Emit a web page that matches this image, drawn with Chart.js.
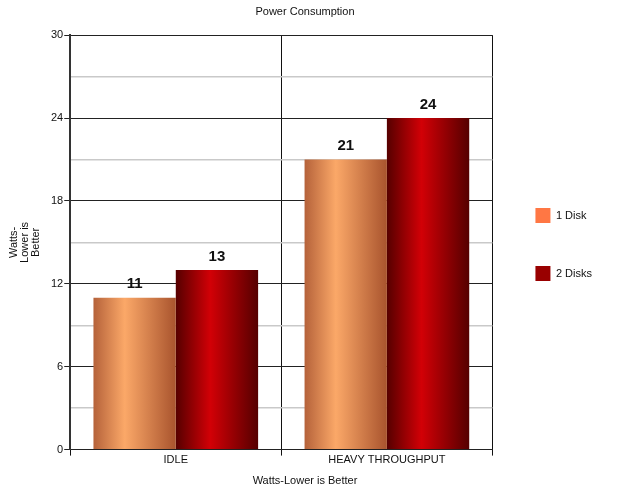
<!DOCTYPE html>
<html lang="en">
<head>
<meta charset="UTF-8">
<title>Power Consumption</title>
<script src="https://cdn.jsdelivr.net/npm/chart.js@4/dist/chart.umd.min.js"></script>
<style>
  html, body { margin: 0; padding: 0; background: #fff; }
  #wrap { width: 640px; height: 489px; }
</style>
</head>
<body>
<div id="wrap"><canvas id="myChart" width="640" height="489"></canvas></div>
<script>
  // values
  const categories = ['IDLE', 'HEAVY THROUGHPUT'];
  const oneDisk = [11, 21];
  const twoDisks = [13, 24];
  const yTicks = [0, 6, 12, 18, 24, 30];

  const FONT = 'Liberation Sans, Arial, sans-serif';

  // gradient stops for the shaded bars (left -> right)
  const oneDiskStops = [[0, '#b5623a'], [0.38, '#fba868'], [1, '#a9542e']];
  const twoDiskStops = [[0, '#560000'], [0.42, '#d20006'], [1, '#550000']];

  const barShading = {
    id: 'barShading',
    beforeDatasetsDraw(chart) {
      const ctx = chart.ctx;
      chart.data.datasets.forEach((ds, i) => {
        const stops = ds.stops;
        chart.getDatasetMeta(i).data.forEach(el => {
          const g = ctx.createLinearGradient(el.x - el.width / 2, 0, el.x + el.width / 2, 0);
          stops.forEach(s => g.addColorStop(s[0], s[1]));
          el.options = Object.assign({}, el.options, { backgroundColor: g });
        });
      });
    }
  };

  const valueLabels = {
    id: 'valueLabels',
    afterDatasetsDraw(chart) {
      const ctx = chart.ctx;
      ctx.save();
      ctx.font = 'bold 15px ' + FONT;
      ctx.fillStyle = '#111';
      ctx.textAlign = 'center';
      ctx.textBaseline = 'bottom';
      chart.data.datasets.forEach((ds, i) => {
        chart.getDatasetMeta(i).data.forEach((el, j) => {
          ctx.fillText(ds.data[j], el.x, el.y - 6);
        });
      });
      ctx.restore();
    }
  };

  const isMajor = v => yTicks.includes(v);

  new Chart(document.getElementById('myChart').getContext('2d'), {
    type: 'bar',
    data: {
      labels: categories,
      datasets: [
        { label: '1 Disk', data: oneDisk, backgroundColor: '#ff7744', stops: oneDiskStops,
          categoryPercentage: 0.78, barPercentage: 1.0 },
        { label: '2 Disks', data: twoDisks, backgroundColor: '#990000', stops: twoDiskStops,
          categoryPercentage: 0.78, barPercentage: 1.0 }
      ]
    },
    options: {
      responsive: false,
      animation: false,
      layout: { padding: { left: 8, right: 38, top: 0, bottom: 0 } },
      plugins: {
        title: {
          display: true, text: 'Power Consumption', color: '#111',
          font: { family: FONT, size: 11, weight: 'normal' },
          padding: { top: 5, bottom: 17 }
        },
        subtitle: {
          display: true, position: 'bottom', text: 'Watts-Lower is Better', color: '#111',
          font: { family: FONT, size: 11, weight: 'normal' },
          padding: { top: 10, bottom: 1 }
        },
        legend: {
          position: 'right',
          labels: {
            color: '#111', boxWidth: 15, boxHeight: 15, padding: 43,
            font: { family: FONT, size: 11 },
            generateLabels(chart) {
              return chart.data.datasets.map((ds, i) => ({
                text: ds.label, fillStyle: ds.backgroundColor, strokeStyle: ds.backgroundColor,
                lineWidth: 0, datasetIndex: i, fontColor: '#111'
              }));
            }
          }
        },
        tooltip: { enabled: false }
      },
      scales: {
        x: {
          grid: { offset: true, color: '#111', lineWidth: 1, tickLength: 6, tickColor: '#111' },
          border: { color: '#222', width: 1 },
          ticks: { color: '#111', font: { family: FONT, size: 11 }, padding: -2 }
        },
        y: {
          min: 0, max: 30,
          grid: {
            color: c => isMajor(c.tick.value) ? '#222' : '#c9c9c9',
            lineWidth: c => isMajor(c.tick.value) ? 1 : 1.5,
            tickLength: 6,
            tickColor: c => isMajor(c.tick.value) ? '#222' : 'rgba(0,0,0,0)'
          },
          border: { color: '#333', width: 2 },
          ticks: {
            stepSize: 3, color: '#111', padding: 1,
            font: { family: FONT, size: 11 },
            callback: v => isMajor(v) ? v : ''
          },
          title: {
            display: true, text: ['Watts-', 'Lower is', 'Better'], color: '#111',
            font: { family: FONT, size: 11, lineHeight: 1.0 },
            padding: { top: 0, bottom: 9 }
          }
        }
      }
    },
    plugins: [barShading, valueLabels]
  });
</script>
</body>
</html>
